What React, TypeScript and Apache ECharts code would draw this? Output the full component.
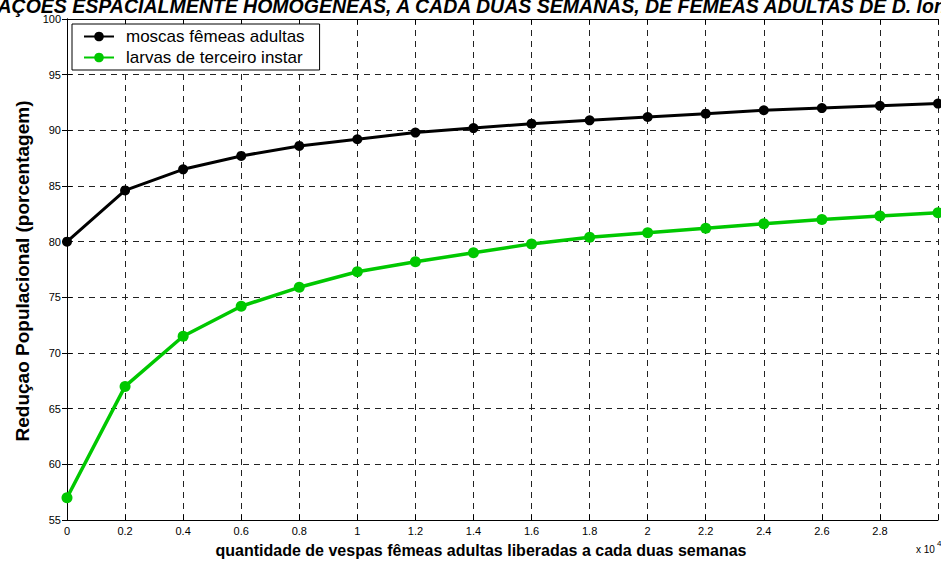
import React, { useEffect, useRef } from "react";
import * as echarts from "echarts";

const xValues = [0, 0.2, 0.4, 0.6, 0.8, 1.0, 1.2, 1.4, 1.6, 1.8, 2.0, 2.2, 2.4, 2.6, 2.8, 3.0];
const moscas = [80.0, 84.6, 86.5, 87.7, 88.6, 89.2, 89.8, 90.2, 90.6, 90.9, 91.2, 91.5, 91.8, 92.0, 92.2, 92.4];
const larvas = [57.0, 67.0, 71.5, 74.2, 75.9, 77.3, 78.2, 79.0, 79.8, 80.4, 80.8, 81.2, 81.6, 82.0, 82.3, 82.6];
const seriesNames = ["moscas fêmeas adultas", "larvas de terceiro instar"];
const titleText = "LIBERAÇÕES ESPACIALMENTE HOMOGÊNEAS, A CADA DUAS SEMANAS, DE FÊMEAS ADULTAS DE D. longicaudata";
const xLabel = "quantidade de vespas fêmeas adultas liberadas a cada duas semanas";
const yLabel = "Reduçao Populacional (porcentagem)";

const FONT = "Liberation Sans, Arial, sans-serif";
const GREEN = "#00c800";

export default function App() {
  const ref = useRef<HTMLDivElement>(null);
  useEffect(() => {
    document.body.style.margin = "0";
    if (!ref.current) return;
    const chart = echarts.init(ref.current, null, { renderer: "svg" });
    const fmt = (v: number) => String(Math.round(v * 10) / 10);
    const grid = { left: 67, right: -1, top: 19, bottom: 43, show: false };
    const dashed = { show: true, lineStyle: { color: "#222", width: 1, type: [6, 5] as any } };
    chart.setOption({
      animation: false,
      backgroundColor: "#fff",
      textStyle: { fontFamily: FONT },
      grid,
      legend: {
        orient: "vertical",
        left: 72,
        top: 24,
        padding: [4, 15, 4, 11],
        itemGap: 4,
        itemWidth: 30,
        itemHeight: 12,
        backgroundColor: "#fff",
        borderColor: "#000",
        borderWidth: 1,
        borderRadius: 0,
        textStyle: { fontSize: 17, color: "#000", fontFamily: FONT, padding: [0, 0, 0, 7] },
        data: seriesNames,
      },
      xAxis: [
        {
          type: "value",
          min: 0,
          max: 3,
          interval: 0.2,
          axisLine: { show: true, onZero: false, lineStyle: { color: "#000", width: 1 } },
          axisTick: { show: true, inside: true, length: 5, lineStyle: { color: "#000" } },
          axisLabel: {
            color: "#000",
            fontSize: 11,
            margin: 5,
            formatter: (v: number) => (v >= 2.99 ? "" : fmt(v)),
          },
          splitLine: dashed,
        },
        {
          type: "value",
          position: "top",
          min: 0,
          max: 3,
          interval: 0.2,
          axisLine: { show: true, onZero: false, lineStyle: { color: "#000", width: 1 } },
          axisTick: { show: true, inside: true, length: 5, lineStyle: { color: "#000" } },
          axisLabel: { show: false },
          splitLine: { show: false },
        },
      ],
      yAxis: [
        {
          type: "value",
          min: 55,
          max: 100,
          interval: 5,
          axisLine: { show: true, lineStyle: { color: "#000", width: 1 } },
          axisTick: { show: true, inside: true, length: 5, lineStyle: { color: "#000" } },
          axisLabel: { color: "#000", fontSize: 11, margin: 6 },
          splitLine: dashed,
        },
        {
          type: "value",
          position: "right",
          min: 55,
          max: 100,
          interval: 5,
          axisLine: { show: true, lineStyle: { color: "#000", width: 1 } },
          axisTick: { show: true, inside: true, length: 5, lineStyle: { color: "#000" } },
          axisLabel: { show: false },
          splitLine: { show: false },
        },
      ],
      series: [
        {
          name: seriesNames[0],
          type: "line",
          data: xValues.map((x, i) => [x, moscas[i]]),
          symbol: "circle",
          symbolSize: 10,
          itemStyle: { color: "#000" },
          lineStyle: { color: "#000", width: 3 },
        },
        {
          name: seriesNames[1],
          type: "line",
          data: xValues.map((x, i) => [x, larvas[i]]),
          symbol: "circle",
          symbolSize: 11,
          itemStyle: { color: GREEN },
          lineStyle: { color: GREEN, width: 3.5 },
        },
      ],
      graphic: [
        {
          type: "text",
          x: -61,
          y: -4,
          style: {
            text: titleText,
            font: `italic bold 19.5px ${FONT}`,
            fill: "#000",
            textAlign: "left",
            textVerticalAlign: "top",
          },
        },
        {
          type: "text",
          x: 481,
          y: 550,
          style: {
            text: xLabel,
            font: `bold 16px ${FONT}`,
            fill: "#000",
            textAlign: "center",
            textVerticalAlign: "middle",
          },
        },
        {
          type: "text",
          x: 22,
          y: 271,
          rotation: Math.PI / 2,
          style: {
            text: yLabel,
            font: `bold 19px ${FONT}`,
            fill: "#000",
            textAlign: "center",
            textVerticalAlign: "middle",
          },
        },
        {
          type: "text",
          x: 916,
          y: 549,
          style: {
            text: "x 10",
            font: `10px ${FONT}`,
            fill: "#000",
            textAlign: "left",
            textVerticalAlign: "middle",
          },
        },
        {
          type: "text",
          x: 937,
          y: 543,
          style: {
            text: "4",
            font: `8px ${FONT}`,
            fill: "#000",
            textAlign: "left",
            textVerticalAlign: "middle",
          },
        },
      ],
    });
    return () => chart.dispose();
  }, []);
  return <div ref={ref} style={{ width: 941, height: 563 }} />;
}
